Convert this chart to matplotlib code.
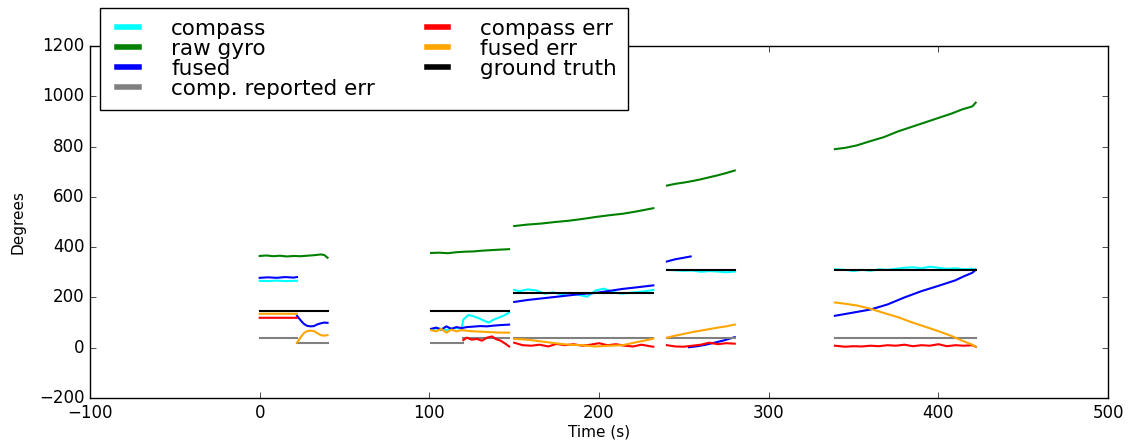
import numpy as np
import matplotlib
matplotlib.use('Agg')
import matplotlib.pyplot as plt

nan = np.nan

# ground truth heading
truth_t = [0, 40, nan, 101, 147, nan, 150, 232, nan, 240, 280, nan, 339, 422]
truth_v = [147, 147, nan, 147, 147, nan, 217, 217, nan, 310, 310, nan, 308, 308]

# raw gyro integration
gyro_t = [0, 4, 8, 12, 16, 20, 24, 28, 32, 36, 38, 40, nan,
          101, 106, 111, 116, 121, 126, 131, 136, 141, 147, nan,
          150, 158, 166, 174, 182, 190, 198, 206, 214, 222, 232, nan,
          240, 245, 250, 255, 260, 265, 270, 275, 280, nan,
          339, 345, 352, 360, 368, 376, 384, 392, 400, 408, 414, 420, 422]
gyro_v = [365, 367, 364, 366, 363, 365, 364, 366, 368, 371, 369, 358, nan,
          377, 378, 376, 380, 382, 383, 386, 388, 390, 392, nan,
          484, 490, 494, 500, 505, 512, 520, 527, 533, 542, 555, nan,
          645, 652, 657, 663, 670, 678, 686, 695, 705, nan,
          790, 795, 805, 822, 838, 860, 878, 896, 914, 932, 948, 960, 975]

# compass heading
compass_t = [0, 5, 10, 15, 20, 22, nan,
             101, 105, 110, 115, 119, 120, 123, 126, 129, 132, 135, 138, 141, 144, 147, nan,
             150, 153, 158, 163, 168, 173, 178, 183, 188, 193, 198, 203, 208, 213, 218, 223, 228, 232, nan,
             240, 245, 250, 255, 260, 265, 270, 275, 280, nan,
             339, 345, 350, 355, 360, 365, 370, 375, 380, 385, 390, 395, 400, 405, 410, 415, 420, 422]
compass_v = [266, 265, 267, 265, 266, 266, nan,
             72, 78, 70, 80, 75, 112, 130, 125, 118, 108, 100, 112, 120, 128, 140, nan,
             230, 225, 232, 228, 215, 220, 212, 218, 210, 203, 228, 235, 222, 215, 218, 222, 225, 230, nan,
             310, 308, 306, 307, 302, 305, 303, 300, 303, nan,
             312, 310, 305, 310, 306, 312, 310, 314, 318, 320, 316, 322, 318, 314, 316, 312, 314, 310]

# fused heading
fused_t = [0, 5, 10, 15, 20, 22, nan,
           22, 24, 26, 28, 30, 32, 34, 36, 38, 40, nan,
           101, 104, 107, 110, 113, 116, 119, 122, 126, 130, 134, 138, 142, 147, nan,
           150, 158, 166, 174, 182, 190, 198, 206, 214, 222, 232, nan,
           240, 245, 250, 254, nan,
           253, 258, 263, 268, 273, 280, nan,
           339, 350, 360, 370, 380, 390, 400, 410, 415, 420, 422]
fused_v = [278, 280, 278, 281, 279, 281, nan,
           127, 110, 95, 87, 85, 86, 93, 97, 100, 99, nan,
           75, 80, 72, 85, 75, 82, 78, 82, 84, 86, 85, 88, 90, 92, nan,
           182, 190, 196, 202, 208, 214, 218, 226, 234, 240, 248, nan,
           343, 352, 358, 363, nan,
           2, 6, 12, 20, 28, 42, nan,
           127, 140, 152, 172, 200, 225, 246, 268, 284, 298, 310]

# compass reported error
rep_t = [0, 22, nan, 22, 40, nan, 101, 120, nan, 120, 147, nan,
         150, 232, nan, 240, 280, nan, 339, 422]
rep_v = [40, 40, nan, 20, 20, nan, 20, 20, nan, 40, 40, nan,
         38, 38, nan, 40, 40, nan, 38, 38]

# compass error vs truth
cerr_t = [0, 22, nan,
          120, 122, 125, 128, 131, 134, 137, 139, 142, 145, 147, nan,
          150, 155, 160, 165, 170, 175, 180, 185, 190, 195, 200, 205, 210, 215, 220, 225, 230, 232, nan,
          240, 245, 250, 255, 260, 265, 270, 275, 280, nan,
          339, 345, 350, 355, 360, 365, 370, 375, 380, 385, 390, 395, 400, 405, 410, 415, 420, 422]
cerr_v = [119, 119, nan,
          30, 40, 32, 35, 28, 40, 45, 35, 28, 15, 5, nan,
          20, 10, 8, 12, 5, 15, 10, 14, 8, 12, 18, 10, 14, 8, 5, 12, 6, 4, nan,
          10, 5, 4, 8, 12, 20, 14, 18, 16, nan,
          8, 4, 6, 5, 8, 6, 10, 8, 12, 6, 10, 8, 14, 6, 10, 8, 10, 4]

# fused error vs truth
ferr_t = [0, 22, nan,
          22, 24, 26, 28, 30, 32, 34, 36, 38, 40, nan,
          101, 104, 107, 110, 113, 116, 119, 124, 130, 136, 142, 147, nan,
          150, 158, 166, 174, 182, 190, 198, 206, 214, 222, 228, 232, nan,
          240, 245, 250, 255, 260, 265, 270, 275, 280, nan,
          339, 345, 352, 360, 368, 376, 384, 392, 400, 408, 414, 420, 422]
ferr_v = [135, 135, nan,
          20, 40, 58, 66, 68, 66, 58, 50, 48, 50, nan,
          70, 65, 75, 60, 72, 65, 70, 66, 64, 62, 60, 60, nan,
          35, 32, 25, 18, 12, 10, 5, 8, 10, 22, 30, 36, nan,
          40, 48, 55, 62, 68, 74, 80, 85, 92, nan,
          180, 175, 168, 155, 138, 122, 102, 84, 66, 46, 28, 12, 4]

plt.style.use('classic')
fig = plt.figure(figsize=(11.28, 4.43), dpi=100, facecolor='white')
ax = fig.add_subplot(111)
fig.subplots_adjust(left=0.0798, right=0.9823, top=0.896, bottom=0.1016)

ax.plot(compass_t, compass_v, color='cyan', lw=1.5, label='compass')
ax.plot(gyro_t, gyro_v, color='green', lw=1.5, label='raw gyro')
ax.plot(fused_t, fused_v, color='blue', lw=1.5, label='fused')
ax.plot(rep_t, rep_v, color='gray', lw=1.5, label='comp. reported err')
ax.plot(cerr_t, cerr_v, color='red', lw=1.5, label='compass err')
ax.plot(ferr_t, ferr_v, color='orange', lw=1.5, label='fused err')
ax.plot(truth_t, truth_v, color='black', lw=1.5, label='ground truth')

ax.set_xlim(-100, 500)
ax.set_ylim(-200, 1200)
ax.set_xlabel('Time (s)', fontsize=11, labelpad=2)
ax.set_ylabel('Degrees', fontsize=11, labelpad=10)
ax.tick_params(labelsize=12)

leg = ax.legend(loc='upper left', bbox_to_anchor=(0.0098, 1.108), borderaxespad=0,
                ncol=2, fontsize=15.5, handlelength=1.6, labelspacing=0.0,
                columnspacing=2.1, handletextpad=1.2, borderpad=0.5)
for h in leg.get_lines():
    h.set_linewidth(4)
leg.set_zorder(5)

fig.savefig('out.png', dpi=100, facecolor='white')
